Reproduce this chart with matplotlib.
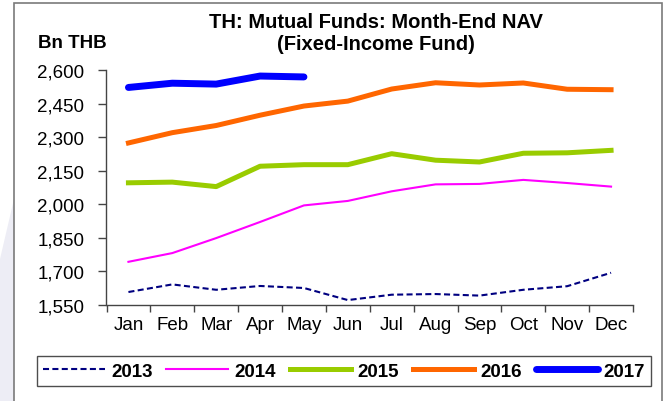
import matplotlib
matplotlib.use("Agg")
import matplotlib.pyplot as plt
from matplotlib.patches import Rectangle, Polygon
from matplotlib.ticker import FuncFormatter, FixedLocator

plt.rcParams['font.family'] = ['Liberation Sans', 'DejaVu Sans']

months = ["Jan", "Feb", "Mar", "Apr", "May", "Jun",
          "Jul", "Aug", "Sep", "Oct", "Nov", "Dec"]

nav_2013 = [1608, 1642, 1618, 1635, 1626, 1572, 1596, 1599, 1592, 1618, 1634, 1694]
nav_2014 = [1743, 1782, 1849, 1921, 1995, 2015, 2058, 2089, 2091, 2109, 2095, 2079]
nav_2015 = [2096, 2099, 2079, 2170, 2177, 2177, 2226, 2197, 2189, 2228, 2230, 2241]
nav_2016 = [2274, 2320, 2352, 2398, 2439, 2461, 2515, 2543, 2533, 2542, 2514, 2512]
nav_2017 = [2522, 2541, 2537, 2573, 2569]

y_ticks = [1550, 1700, 1850, 2000, 2150, 2300, 2450, 2600]

W, H = 669, 402
fig = plt.figure(figsize=(W / 100, H / 100), dpi=100)

# faint backdrop strip at the left edge and the outer frame
fig.patches.append(Polygon([(0, 0), (14 / W, 0), (14 / W, 1 - 200 / H), (0, 1 - 260 / H)],
                           closed=True, transform=fig.transFigure,
                           facecolor='#ededf5', edgecolor='none', zorder=0))
fig.patches.append(Rectangle((14 / W, -0.05), (662 - 14) / W, 1.05 - 4 / H,
                             transform=fig.transFigure, facecolor='none',
                             edgecolor='#7a7a7a', linewidth=1.2, zorder=1))

ax = fig.add_axes([106.5 / W, 1 - 306 / H, (633 - 106.5) / W, (306 - 71) / H])
ax.set_facecolor('none')

x = list(range(len(months)))
ax.plot(x, nav_2013, color='#000080', lw=1.5, dashes=(2.9, 1.6), label='2013')
ax.plot(x, nav_2014, color='#FF00FF', lw=1.5, label='2014')
ax.plot(x, nav_2015, color='#99CC00', lw=3.6, label='2015')
ax.plot(x, nav_2016, color='#FF6600', lw=3.6, label='2016')
ax.plot(x[:len(nav_2017)], nav_2017, color='#0000FF', lw=5, label='2017',
        solid_capstyle='round')

ax.set_xlim(-0.5, len(months) - 0.5)
ax.set_ylim(1550, 2600)
ax.set_yticks(y_ticks)
ax.yaxis.set_major_formatter(FuncFormatter(lambda v, p: f"{int(v):,}"))
ax.set_xticks(x)
ax.set_xticklabels(months)
ax.xaxis.set_minor_locator(FixedLocator([i - 0.5 for i in range(len(months) + 1)]))
ax.tick_params(axis='x', which='major', length=0, pad=8, labelsize=13.5)
ax.tick_params(axis='x', which='minor', length=5, width=1, color='#444444')
ax.tick_params(axis='y', length=6, width=1, color='#444444', pad=10, labelsize=13.5)

for s in ['top', 'right']:
    ax.spines[s].set_visible(False)
for s in ['left', 'bottom']:
    ax.spines[s].set_color('#444444')
    ax.spines[s].set_linewidth(1)

fig.text(376 / W, 1 - 23 / H, "TH: Mutual Funds: Month-End NAV", ha='center', va='center',
         fontsize=14.5, fontweight='bold')
fig.text(376 / W, 1 - 44 / H, "(Fixed-Income Fund)", ha='center', va='center',
         fontsize=14.5, fontweight='bold')
fig.text(72 / W, 1 - 44 / H, "Bn THB", ha='center', va='center',
         fontsize=13.5, fontweight='bold')

leg = fig.legend(loc='center', bbox_to_anchor=(344 / W, 1 - 372 / H), ncol=5,
                 frameon=True, fancybox=False, handlelength=3.3, handletextpad=0.3,
                 columnspacing=0.75, borderpad=0.35, prop={'weight': 'bold', 'size': 13.5})
leg.get_frame().set_edgecolor('#222222')
leg.get_frame().set_linewidth(1)

fig.savefig("out.png", dpi=100)
